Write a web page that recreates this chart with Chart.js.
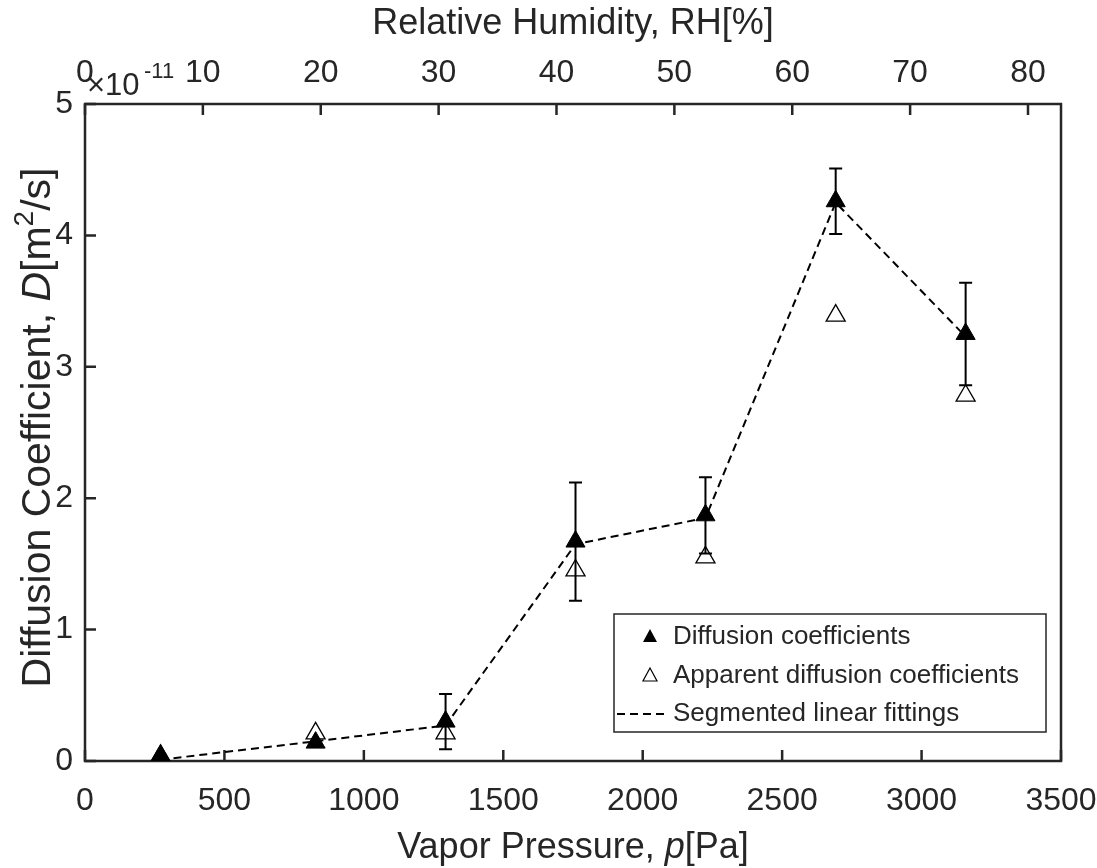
<!DOCTYPE html>
<html>
<head>
<meta charset="utf-8">
<script src="https://cdn.jsdelivr.net/npm/chart.js@4.4.1/dist/chart.umd.min.js"></script>
<style>
  html, body { margin: 0; padding: 0; background: #fff; }
  #wrap { width: 1097px; height: 868px; }
</style>
</head>
<body>
<div id="wrap"><canvas id="myChart" width="1097" height="868"></canvas></div>
<script>
// vapor pressure of each sample [Pa]
const pressure = [271, 827, 1293, 1759, 2225, 2692, 3158];
// diffusion coefficients (x 1e-11 m2/s) and their error half-width
const diffusion = [0.04, 0.14, 0.30, 1.67, 1.87, 4.26, 3.25];
const diffusionErr = [0, 0, 0.21, 0.45, 0.29, 0.25, 0.39];
// apparent diffusion coefficients
const apparent = [0.04, 0.21, 0.21, 1.45, 1.55, 3.39, 2.78];
// segmented linear fitting, evaluated at the same pressures
const fitting = [0.01, 0.15, 0.27, 1.65, 1.85, 4.25, 3.23];

// tick labels
const xTicks = [0, 500, 1000, 1500, 2000, 2500, 3000, 3500];
const yTicks = [0, 1, 2, 3, 4, 5];
const rhTicks = [0, 10, 20, 30, 40, 50, 60, 70, 80];
const rhMax = 82.8; // RH at 3500 Pa

const FONT = "'Liberation Sans', Arial, Helvetica, sans-serif";
const INK = '#262626';

const toPoints = (vals) => pressure.map((p, i) => ({ x: p, y: vals[i] }));

// frame box + inward tick marks (MATLAB style)
const framePlugin = {
    id: 'frame',
    beforeDatasetsDraw(chart) {
        const { ctx, chartArea: a, scales } = chart;
        ctx.save();
        ctx.strokeStyle = INK;
        ctx.lineWidth = 2.5;
        ctx.beginPath();
        xTicks.forEach(v => {
            const px = scales.x.getPixelForValue(v);
            ctx.moveTo(px, a.bottom); ctx.lineTo(px, a.bottom - 11);
        });
        rhTicks.forEach(v => {
            const px = scales.x2.getPixelForValue(v);
            ctx.moveTo(px, a.top); ctx.lineTo(px, a.top + 11);
        });
        yTicks.forEach(v => {
            const py = scales.y.getPixelForValue(v);
            ctx.moveTo(a.left, py); ctx.lineTo(a.left + 11, py);
        });
        ctx.stroke();
        ctx.strokeRect(a.left, a.top, a.right - a.left, a.bottom - a.top);
        ctx.restore();
    }
};

// vertical error bars on the first dataset
const errorBarPlugin = {
    id: 'errorBars',
    beforeDatasetsDraw(chart) {
        const { ctx, scales } = chart;
        ctx.save();
        ctx.strokeStyle = '#000';
        ctx.lineWidth = 2;
        pressure.forEach((p, i) => {
            const e = diffusionErr[i];
            if (!e) return;
            const px = scales.x.getPixelForValue(p);
            const top = scales.y.getPixelForValue(diffusion[i] + e);
            const bot = scales.y.getPixelForValue(diffusion[i] - e);
            ctx.beginPath();
            ctx.moveTo(px, top); ctx.lineTo(px, bot);
            ctx.moveTo(px - 6.5, top); ctx.lineTo(px + 6.5, top);
            ctx.moveTo(px - 6.5, bot); ctx.lineTo(px + 6.5, bot);
            ctx.stroke();
        });
        ctx.restore();
    }
};

// draws text made of plain / italic / superscript pieces
function drawRich(ctx, parts, x, y, size) {
    const fontOf = (pt) => (pt.italic ? 'italic ' : '') + Math.round(pt.sup ? size * 0.68 : size) + 'px ' + FONT;
    let total = 0;
    parts.forEach(pt => { ctx.font = fontOf(pt); total += ctx.measureText(pt.text).width; });
    let cx = x - total / 2;
    parts.forEach(pt => {
        ctx.font = fontOf(pt);
        ctx.fillText(pt.text, cx, pt.sup ? y - size * 0.42 : y);
        cx += ctx.measureText(pt.text).width;
    });
}

const textPlugin = {
    id: 'texts',
    afterDraw(chart) {
        const { ctx, chartArea: a } = chart;
        const midX = (a.left + a.right) / 2;
        ctx.save();
        ctx.fillStyle = INK;
        ctx.textBaseline = 'alphabetic';
        ctx.textAlign = 'left';

        drawRich(ctx, [{ text: 'Relative Humidity, RH[%]' }], midX, 34, 36);
        drawRich(ctx, [{ text: 'Vapor Pressure, ' }, { text: 'p', italic: true }, { text: '[Pa]' }], midX, 858, 36);

        ctx.save();
        ctx.translate(50, (a.top + a.bottom) / 2 - 5);
        ctx.rotate(-Math.PI / 2);
        drawRich(ctx, [{ text: 'Diffusion Coefficient, ' }, { text: 'D', italic: true },
            { text: '[m' }, { text: '2', sup: true }, { text: '/s]' }], 0, 0, 41);
        ctx.restore();

        // exponent of the y axis
        ctx.font = '31px ' + FONT;
        ctx.fillText('\u00d710', 87, 95);
        ctx.font = '22px ' + FONT;
        ctx.fillText('-11', 144, 78);

        // legend
        const lx = 614, ly = 614, lw = 432, lh = 118;
        ctx.fillStyle = '#fff';
        ctx.fillRect(lx, ly, lw, lh);
        ctx.strokeStyle = INK;
        ctx.lineWidth = 1.5;
        ctx.strokeRect(lx, ly, lw, lh);
        const rows = [ly + 23, ly + 62, ly + 100];
        const labels = chart.data.datasets.map(d => d.label);
        ctx.fillStyle = '#000';
        ctx.strokeStyle = '#000';
        ctx.beginPath();
        ctx.moveTo(650, rows[0] - 8); ctx.lineTo(657, rows[0] + 5); ctx.lineTo(643, rows[0] + 5); ctx.closePath();
        ctx.fill();
        ctx.lineWidth = 1.2;
        ctx.beginPath();
        ctx.moveTo(650, rows[1] - 8); ctx.lineTo(657, rows[1] + 5); ctx.lineTo(643, rows[1] + 5); ctx.closePath();
        ctx.stroke();
        ctx.lineWidth = 2;
        ctx.setLineDash([8, 5]);
        ctx.beginPath();
        ctx.moveTo(617, rows[2]); ctx.lineTo(668, rows[2]);
        ctx.stroke();
        ctx.setLineDash([]);
        ctx.fillStyle = INK;
        ctx.font = '26px ' + FONT;
        ctx.textBaseline = 'middle';
        labels.forEach((t, i) => ctx.fillText(t, 673, rows[i]));
        ctx.restore();
    }
};

const tickFont = { family: FONT, size: 32 };
const plainLabel = (v) => String(v);

new Chart(document.getElementById('myChart'), {
    type: 'scatter',
    data: {
        datasets: [
            {
                label: 'Diffusion coefficients',
                data: toPoints(diffusion),
                pointStyle: 'triangle',
                pointRadius: 11,
                backgroundColor: '#000',
                borderColor: '#000',
                borderWidth: 1,
                order: 1,
            },
            {
                label: 'Apparent diffusion coefficients',
                data: toPoints(apparent),
                pointStyle: 'triangle',
                pointRadius: 11,
                backgroundColor: 'rgba(0,0,0,0)',
                borderColor: '#000',
                borderWidth: 1.3,
                order: 2,
            },
            {
                label: 'Segmented linear fittings',
                data: toPoints(fitting),
                showLine: true,
                borderDash: [8, 5],
                borderWidth: 2,
                borderColor: '#000',
                pointRadius: 0,
                fill: false,
                order: 3,
            },
        ],
    },
    options: {
        responsive: false,
        animation: false,
        layout: { padding: { left: 0, right: 36, top: 0, bottom: 0 } },
        plugins: {
            legend: { display: false },
            tooltip: { enabled: false },
        },
        scales: {
            x: {
                type: 'linear',
                position: 'bottom',
                min: 0,
                max: 3500,
                afterBuildTicks: (s) => { s.ticks = xTicks.map(v => ({ value: v })); },
                afterFit: (s) => { s.height = 107; s.paddingLeft = 0; s.paddingRight = 0; },
                ticks: { font: tickFont, color: INK, padding: 21, maxRotation: 0, callback: plainLabel },
                grid: { display: false, drawTicks: false, tickLength: 0 },
                border: { display: false },
            },
            x2: {
                type: 'linear',
                position: 'top',
                min: 0,
                max: rhMax,
                afterBuildTicks: (s) => { s.ticks = rhTicks.map(v => ({ value: v })); },
                afterFit: (s) => { s.height = 104; s.paddingLeft = 0; s.paddingRight = 0; },
                ticks: { font: tickFont, color: INK, padding: 12, maxRotation: 0, callback: plainLabel },
                grid: { display: false, drawTicks: false, tickLength: 0 },
                border: { display: false },
            },
            y: {
                type: 'linear',
                position: 'left',
                min: 0,
                max: 5,
                afterBuildTicks: (s) => { s.ticks = yTicks.map(v => ({ value: v })); },
                afterFit: (s) => { s.width = 85; s.paddingTop = 0; s.paddingBottom = 0; },
                ticks: { font: tickFont, color: INK, padding: 12, callback: plainLabel },
                grid: { display: false, drawTicks: false, tickLength: 0 },
                border: { display: false },
            },
        },
    },
    plugins: [framePlugin, errorBarPlugin, textPlugin],
});
</script>
</body>
</html>
